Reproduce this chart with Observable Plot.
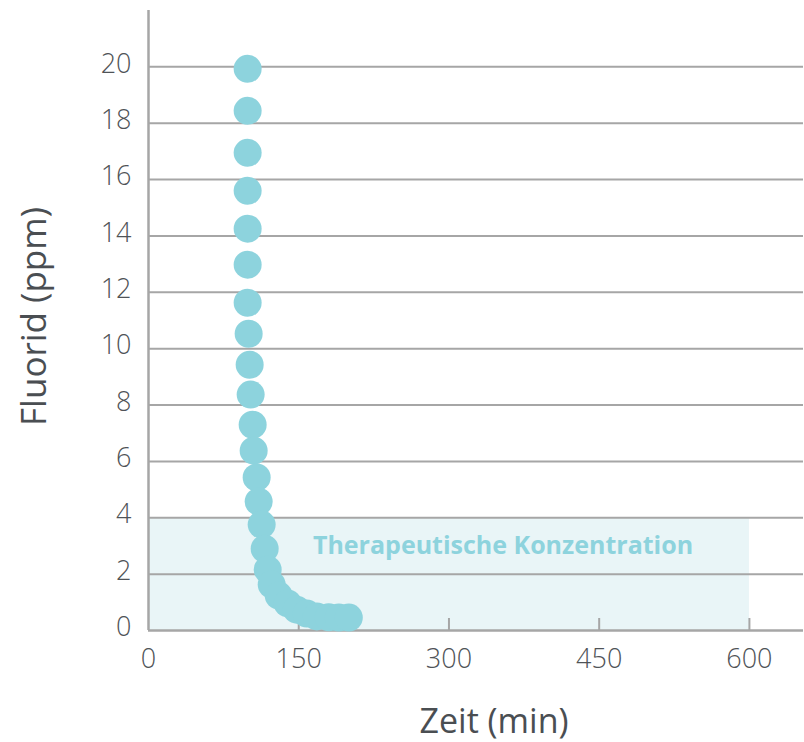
<!DOCTYPE html>
<html>
<head>
<meta charset="utf-8">
<script src="https://cdn.jsdelivr.net/npm/d3@7"></script>
<script src="https://cdn.jsdelivr.net/npm/@observablehq/plot@0.6"></script>
<style>
  html, body { margin: 0; padding: 0; background: #fff; }
  #chart svg { display: block; }
</style>
</head>
<body>
<div id="chart"></div>
<script>
// Data
const timeMin = [99, 99, 99, 99, 99, 99, 99, 100, 101, 102, 104, 105, 108, 110, 113, 116, 119, 123, 130, 139, 148, 158, 168, 180, 190, 200];
const fluoridPpm = [19.93, 18.44, 16.95, 15.6, 14.26, 12.98, 11.63, 10.53, 9.43, 8.37, 7.3, 6.38, 5.43, 4.57, 3.76, 2.9, 2.16, 1.63, 1.24, 0.96, 0.74, 0.6, 0.5, 0.47, 0.46, 0.46];
const xTicks = [0, 150, 300, 450, 600];
const yTicks = [0, 2, 4, 6, 8, 10, 12, 14, 16, 18, 20];
const bandStart = [0];
const bandEnd = [600];
const bandLow = [0];
const bandHigh = [4];
const bandLabel = ["Therapeutische Konzentration"];
const bandLabelX = [354];
const bandLabelY = [3];
const xTitle = "Zeit (min)";
const yTitle = "Fluorid (ppm)";

const points = timeMin.map((t, i) => ({t, f: fluoridPpm[i]}));
const band = bandStart.map((s, i) => ({x1: s, x2: bandEnd[i], y1: bandLow[i], y2: bandHigh[i]}));
const labels = bandLabel.map((text, i) => ({text, x: bandLabelX[i], y: bandLabelY[i]}));

const gridColor = "#a6a6a6";
const textColor = "#4f5357";
const dotColor = "#8dd3dd";

const chart = Plot.plot({
  width: 804,
  height: 742,
  marginLeft: 148,
  marginRight: 1,
  marginTop: 10,
  marginBottom: 112,
  style: {fontFamily: "'Open Sans', sans-serif", color: textColor, background: "#fff", overflow: "visible"},
  x: {domain: [0, 654]},
  y: {domain: [0, 22]},
  marks: [
    Plot.rect(band, {x1: "x1", x2: "x2", y1: "y1", y2: "y2", fill: "#e9f5f7"}),
    Plot.gridY(yTicks.filter(d => d > 0), {stroke: gridColor, strokeOpacity: 1, strokeWidth: 2}),
    Plot.axisY(yTicks, {tickSize: 0, tickPadding: 17, fontSize: 27, fontWeight: 300, fill: textColor, dy: -3, label: null}),
    Plot.axisX(xTicks, {tickSize: 0, tickPadding: 18, fontSize: 27, fontWeight: 300, fill: textColor, label: null}),
    Plot.axisX(xTicks.filter(d => d > 0), {tickSize: -12, text: null, stroke: gridColor, strokeWidth: 2, strokeOpacity: 1, label: null}),
    Plot.ruleY([0], {stroke: gridColor, strokeWidth: 2.5}),
    Plot.ruleX([0], {stroke: gridColor, strokeWidth: 2.5}),
    Plot.text(labels, {x: "x", y: "y", text: "text", fill: dotColor, fontSize: 25, fontWeight: 700}),
    Plot.dot(points, {x: "t", y: "f", r: 14, fill: dotColor, stroke: "none"}),
    Plot.text([xTitle], {x: [345], frameAnchor: "bottom", lineAnchor: "bottom", dy: 102, fontSize: 34, fill: "#4a4e52", fontWeight: 400}),
    Plot.text([yTitle], {frameAnchor: "left", textAnchor: "middle", dx: -114, dy: -4, rotate: -90, fontSize: 35, fill: "#4a4e52", fontWeight: 400})
  ]
});
document.getElementById("chart").append(chart);
</script>
</body>
</html>
